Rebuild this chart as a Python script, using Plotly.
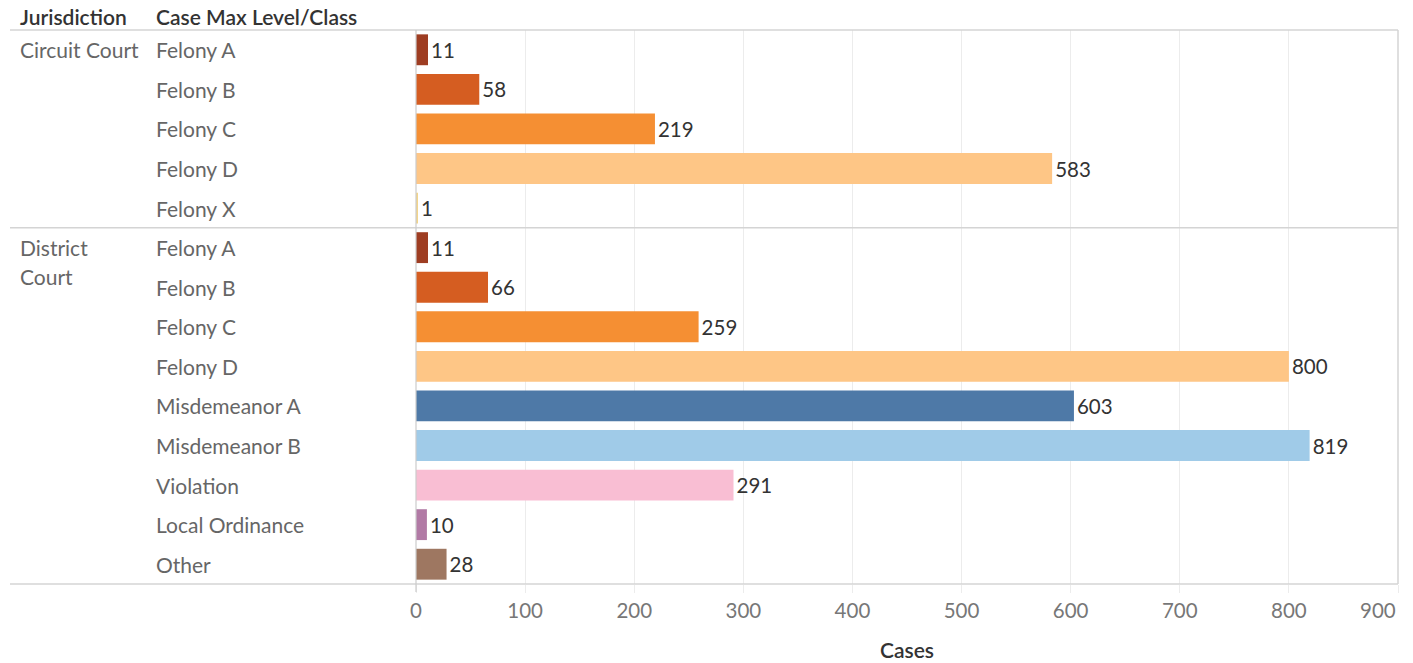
import plotly.graph_objects as go

jurisdictions = ["Circuit Court", "Circuit Court", "Circuit Court", "Circuit Court", "Circuit Court",
                 "District Court", "District Court", "District Court", "District Court", "District Court",
                 "District Court", "District Court", "District Court", "District Court"]
classes = ["Felony A", "Felony B", "Felony C", "Felony D", "Felony X",
           "Felony A", "Felony B", "Felony C", "Felony D", "Misdemeanor A",
           "Misdemeanor B", "Violation", "Local Ordinance", "Other"]
cases = [11, 58, 219, 583, 1, 11, 66, 259, 800, 603, 819, 291, 10, 28]
class_colors = {
    "Felony A": "#9e3d22", "Felony B": "#d55d21", "Felony C": "#f58f33",
    "Felony D": "#fec686", "Felony X": "#f3d58a", "Misdemeanor A": "#4e79a7",
    "Misdemeanor B": "#a0cbe8", "Violation": "#f9bed3", "Local Ordinance": "#b17aa5",
    "Other": "#9e7761",
}
x_ticks = [0, 100, 200, 300, 400, 500, 600, 700, 800, 900]
x_tick_text = ["0", "100", "200", "300", "400", "500", "600", "700", "800", ""]

W, H = 1413, 663
L, T = 416, 30
R = W - 1398
B = H - 584
pw = W - L - R
ph = H - T - B

FONT = "Lato, Open Sans, sans-serif"

keys = [f"{j}|{c}" for j, c in zip(jurisdictions, classes)]
n = len(keys)

fig = go.Figure(go.Bar(
    x=cases, y=keys, orientation="h",
    marker=dict(color=[class_colors[c] for c in classes], line=dict(width=0)),
    width=0.78,
    text=[str(v) for v in cases], textposition="outside",
    textfont=dict(family=FONT, size=20.5, color="#333333"),
    cliponaxis=False, constraintext="none",
    hovertemplate="%{y}: %{x}<extra></extra>",
))

def px_x(p):
    return (p - L) / pw

def row_y(i):
    return 1 - (i + 0.5) / n

ann = []
font_row = dict(family=FONT, size=21, color="#666666")
for i, c in enumerate(classes):
    ann.append(dict(x=px_x(154), y=row_y(i), xref="paper", yref="paper", text=c,
                    showarrow=False, xanchor="left", yanchor="middle", font=font_row))
ann.append(dict(x=px_x(18), y=row_y(0), xref="paper", yref="paper", text="Circuit Court",
                showarrow=False, xanchor="left", yanchor="middle", font=font_row))
ann.append(dict(x=px_x(18), y=row_y(5), xref="paper", yref="paper",
                text="District", showarrow=False, xanchor="left", yanchor="middle", font=font_row))
ann.append(dict(x=px_x(18), y=row_y(5) - 29 / ph, xref="paper", yref="paper",
                text="Court", showarrow=False, xanchor="left", yanchor="middle", font=font_row))
font_head = dict(family=FONT, size=21, color="#333333", weight=600)
ann.append(dict(x=px_x(18), y=1 + 14 / ph, xref="paper", yref="paper", text="Jurisdiction",
                showarrow=False, xanchor="left", yanchor="middle", font=font_head))
ann.append(dict(x=px_x(154), y=1 + 14 / ph, xref="paper", yref="paper", text="Case Max Level/Class",
                showarrow=False, xanchor="left", yanchor="middle", font=font_head))
# last tick label is pulled inside the frame, as in the reference
ann.append(dict(x=x_ticks[-1], y=-26 / ph, xref="x", yref="paper", text=str(x_ticks[-1]),
                showarrow=False, xanchor="right", yanchor="middle",
                font=dict(family=FONT, size=20.5, color="#777777")))

line_style = dict(color="#d4d4d4", width=1.5)
shapes = []
for yy in [1, 1 - 5 / n, 0]:
    shapes.append(dict(type="line", xref="paper", yref="paper", x0=px_x(10), x1=1,
                       y0=yy, y1=yy, line=line_style))
shapes.append(dict(type="line", xref="paper", yref="paper", x0=1, x1=1, y0=0, y1=1, line=line_style))
shapes.append(dict(type="line", xref="paper", yref="paper", x0=0, x1=0, y0=-8 / ph, y1=1,
                   line=dict(color="#cccccc", width=1.2)))

fig.update_layout(
    width=W, height=H,
    margin=dict(l=L, r=R, t=T, b=B, autoexpand=False),
    plot_bgcolor="white", paper_bgcolor="white",
    showlegend=False,
    annotations=ann, shapes=shapes,
    xaxis=dict(range=[0, 900], tickvals=x_ticks, ticktext=x_tick_text,
               showgrid=True, gridcolor="#ececec", gridwidth=1,
               zeroline=False, ticks="outside", ticklen=8, tickcolor="#ececec",
               automargin=False,
               tickfont=dict(family=FONT, size=20.5, color="#777777"),
               title=dict(text="Cases", font=dict(family=FONT, size=21, color="#333333", weight=600),
                          standoff=22),
               showline=False, fixedrange=True),
    yaxis=dict(categoryorder="array", categoryarray=keys, range=[n - 0.5, -0.5], automargin=False,
               showticklabels=False, showgrid=False, zeroline=False, showline=False, fixedrange=True),
)

fig.write_html("out.html",
               config={"displayModeBar": False},
               post_script="document.body.style.margin='0';"
                           "document.documentElement.style.overflow='hidden';")
